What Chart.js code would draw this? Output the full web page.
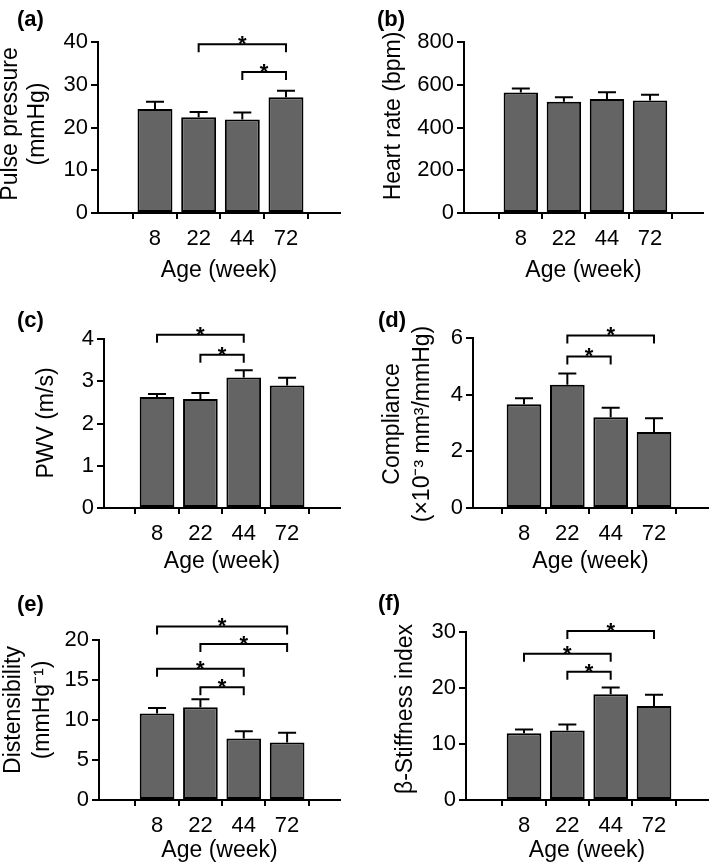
<!DOCTYPE html>
<html>
<head>
<meta charset="utf-8">
<script src="https://cdn.jsdelivr.net/npm/chart.js@4.4.1/dist/chart.umd.min.js"></script>
<style>
  html, body { margin: 0; padding: 0; background: #fff; width: 709px; height: 866px; overflow: hidden; }
  canvas { position: absolute; }
</style>
</head>
<body>
<canvas id="pa"></canvas>
<canvas id="pb"></canvas>
<canvas id="pc"></canvas>
<canvas id="pd"></canvas>
<canvas id="pe"></canvas>
<canvas id="pf"></canvas>
<script>
// x categories
const ages = ['8', '22', '44', '72'];

// (a) pulse pressure, mmHg
const pulseMean = [24.3, 22.4, 21.9, 27.1];
const pulseSem = [1.7, 1.2, 1.6, 1.5];
const pulseSig = [[2, 4, 39.5], [3, 4, 33.0]];

// (b) heart rate, bpm
const hrMean = [564, 520, 533, 526];
const hrSem = [18, 22, 32, 27];
const hrSig = [];

// (c) PWV, m/s
const pwvMean = [2.63, 2.58, 3.09, 2.90];
const pwvSem = [0.07, 0.14, 0.17, 0.18];
const pwvSig = [[1, 3, 4.10], [2, 3, 3.63]];

// (d) compliance
const compMean = [3.66, 4.35, 3.20, 2.68];
const compSem = [0.21, 0.40, 0.34, 0.49];
const compSig = [[2, 4, 6.09], [2, 3, 5.35]];

// (e) distensibility
const distMean = [10.8, 11.6, 7.7, 7.2];
const distSem = [0.7, 1.0, 0.9, 1.2];
const distSig = [[1, 4, 21.7], [2, 4, 19.5], [1, 3, 16.4], [2, 3, 14.1]];

// (f) beta stiffness index
const betaMean = [11.9, 12.4, 18.9, 16.8];
const betaSem = [0.7, 1.1, 1.2, 2.0];
const betaSig = [[2, 4, 30.2], [1, 3, 26.1], [2, 3, 22.9]];

const FONT = '"Liberation Sans", Arial, Helvetica, sans-serif';
const BAR_COLOR = '#646464';

// panel label, y title, error bars, significance brackets
const extras = {
  id: 'extras',
  afterDatasetsDraw(chart, args, o) {
    const ctx = chart.ctx;
    const xs = chart.scales.x, ys = chart.scales.y;
    const meta = chart.getDatasetMeta(0);
    ctx.save();
    ctx.strokeStyle = '#000';
    ctx.lineWidth = 2;
    // error bars (upper only)
    meta.data.forEach((bar, i) => {
      const top = ys.getPixelForValue(o.mean[i] + o.sem[i]);
      ctx.beginPath();
      ctx.moveTo(bar.x, bar.y);
      ctx.lineTo(bar.x, top);
      ctx.moveTo(bar.x - 9, top);
      ctx.lineTo(bar.x + 9, top);
      ctx.stroke();
    });
    // brackets
    ctx.fillStyle = '#000';
    ctx.font = 'bold 22px ' + FONT;
    ctx.textAlign = 'center';
    ctx.textBaseline = 'alphabetic';
    o.sig.forEach(([a, b, lvl]) => {
      const x1 = xs.getPixelForValue(a), x2 = xs.getPixelForValue(b);
      const y = ys.getPixelForValue(lvl);
      ctx.beginPath();
      ctx.moveTo(x1, y + 8);
      ctx.lineTo(x1, y);
      ctx.lineTo(x2, y);
      ctx.lineTo(x2, y + 8);
      ctx.stroke();
      ctx.fillText('*', (x1 + x2) / 2, y + 7);
    });
    ctx.restore();
  },
  afterDraw(chart, args, o) {
    const ctx = chart.ctx;
    ctx.save();
    ctx.fillStyle = '#000';
    ctx.font = 'bold 22px ' + FONT;
    ctx.textAlign = 'left';
    ctx.textBaseline = 'middle';
    ctx.fillText(o.label, o.labelX, o.labelY);
    ctx.font = '23px ' + FONT;
    ctx.textAlign = 'center';
    o.yTitle.forEach(t => {
      ctx.save();
      ctx.translate(t.x, o.yTitleY);
      ctx.rotate(-Math.PI / 2);
      ctx.fillText(t.text, 0, 0);
      ctx.restore();
    });
    ctx.restore();
  }
};

const panels = [
  { id: 'pa', left: 0, top: 0, width: 354, height: 286, axisX: 98, yTop: 42, yZero: 213, xRight: 340,
    xMin: -0.305, xMax: 5.237, yMax: 40, step: 10, mean: pulseMean, sem: pulseSem, sig: pulseSig,
    label: '(a)', labelX: 17, labelY: 20, titleY: 124, xTitleY: 271,
    yTitle: [{ text: 'Pulse pressure', x: 11 }, { text: '(mmHg)', x: 38 }] },
  { id: 'pb', left: 354, top: 0, width: 355, height: 286, axisX: 464, yTop: 42, yZero: 213, xRight: 703,
    xMin: -0.32, xMax: 5.23, yMax: 800, step: 200, mean: hrMean, sem: hrSem, sig: hrSig,
    label: '(b)', labelX: 377, labelY: 20, titleY: 116, xTitleY: 271,
    yTitle: [{ text: 'Heart rate (bpm)', x: 394 }] },
  { id: 'pc', left: 0, top: 286, width: 354, height: 290, axisX: 104, yTop: 339, yZero: 508, xRight: 340,
    xMin: -0.223, xMax: 5.22, yMax: 4, step: 1, mean: pwvMean, sem: pwvSem, sig: pwvSig,
    label: '(c)', labelX: 17, labelY: 321, titleY: 423, xTitleY: 562,
    yTitle: [{ text: 'PWV (m/s)', x: 47 }] },
  { id: 'pd', left: 354, top: 286, width: 355, height: 290, axisX: 473, yTop: 338, yZero: 508, xRight: 708,
    xMin: -0.177, xMax: 5.246, yMax: 6, step: 2, mean: compMean, sem: compSem, sig: compSig,
    label: '(d)', labelX: 378, labelY: 321, titleY: 424, xTitleY: 562,
    yTitle: [{ text: 'Compliance', x: 393 }, { text: '(\u00d710\u207b\u00b3 mm\u00b3/mmHg)', x: 423 }] },
  { id: 'pe', left: 0, top: 576, width: 354, height: 290, axisX: 99, yTop: 640, yZero: 800, xRight: 340,
    xMin: -0.339, xMax: 5.22, yMax: 20, step: 5, mean: distMean, sem: distSem, sig: distSig,
    label: '(e)', labelX: 17, labelY: 605, titleY: 710, xTitleY: 851,
    yTitle: [{ text: 'Distensibility', x: 14 }, { text: '(mmHg\u207b\u00b9)', x: 43 }] },
  { id: 'pf', left: 354, top: 576, width: 355, height: 290, axisX: 466, yTop: 632, yZero: 800, xRight: 708,
    xMin: -0.339, xMax: 5.246, yMax: 30, step: 10, mean: betaMean, sem: betaSem, sig: betaSig,
    label: '(f)', labelX: 378, labelY: 604, titleY: 709, xTitleY: 851,
    yTitle: [{ text: '\u03b2-Stiffness index', x: 406 }] }
];

panels.forEach(p => {
  const cv = document.getElementById(p.id);
  cv.width = p.width;
  cv.height = p.height;
  cv.style.left = p.left + 'px';
  cv.style.top = p.top + 'px';
  cv.style.width = p.width + 'px';
  cv.style.height = p.height + 'px';

  const titleLH = 23 * 1.2;
  const xTitlePad = Math.max(0, p.top + p.height - p.xTitleY - titleLH / 2);

  new Chart(cv.getContext('2d'), {
    type: 'bar',
    data: {
      datasets: [{
        data: p.mean.map((v, i) => ({ x: i + 1, y: v })),
        backgroundColor: BAR_COLOR,
        borderColor: '#000',
        borderWidth: 2,
        borderSkipped: false,
        barPercentage: 0.8,
        categoryPercentage: 1
      }]
    },
    options: {
      responsive: false,
      animation: false,
      layout: { padding: { top: p.yTop - p.top, right: p.left + p.width - p.xRight, left: 0, bottom: 0 } },
      plugins: {
        legend: { display: false },
        tooltip: { enabled: false },
        extras: {
          mean: p.mean, sem: p.sem, sig: p.sig,
          label: p.label, labelX: p.labelX - p.left, labelY: p.labelY - p.top,
          yTitleY: p.titleY - p.top,
          yTitle: p.yTitle.map(t => ({ text: t.text, x: t.x - p.left }))
        }
      },
      scales: {
        x: {
          type: 'linear',
          min: p.xMin,
          max: p.xMax,
          offset: false,
          afterBuildTicks: s => { s.ticks = ages.map((a, i) => ({ value: i + 1 })); },
          afterFit: s => { s.height = p.top + p.height - p.yZero; },
          ticks: {
            callback: v => ages[v - 1],
            autoSkip: false,
            maxRotation: 0,
            padding: 7,
            color: '#000',
            font: { family: FONT, size: 22 }
          },
          grid: { drawOnChartArea: false, drawTicks: true, tickLength: 6, color: '#000', lineWidth: 2 },
          border: { color: '#000', width: 2 },
          title: {
            display: true,
            text: 'Age (week)',
            color: '#000',
            font: { family: FONT, size: 23, lineHeight: 1.2 },
            padding: { top: 0, bottom: xTitlePad }
          }
        },
        y: {
          min: 0,
          max: p.yMax,
          afterFit: s => { s.width = p.axisX - p.left; },
          ticks: { stepSize: p.step, padding: 3, color: '#000', font: { family: FONT, size: 22 } },
          grid: { drawOnChartArea: false, drawTicks: true, tickLength: 7, color: '#000', lineWidth: 2 },
          border: { color: '#000', width: 2 }
        }
      }
    },
    plugins: [extras]
  });
});
</script>
</body>
</html>
